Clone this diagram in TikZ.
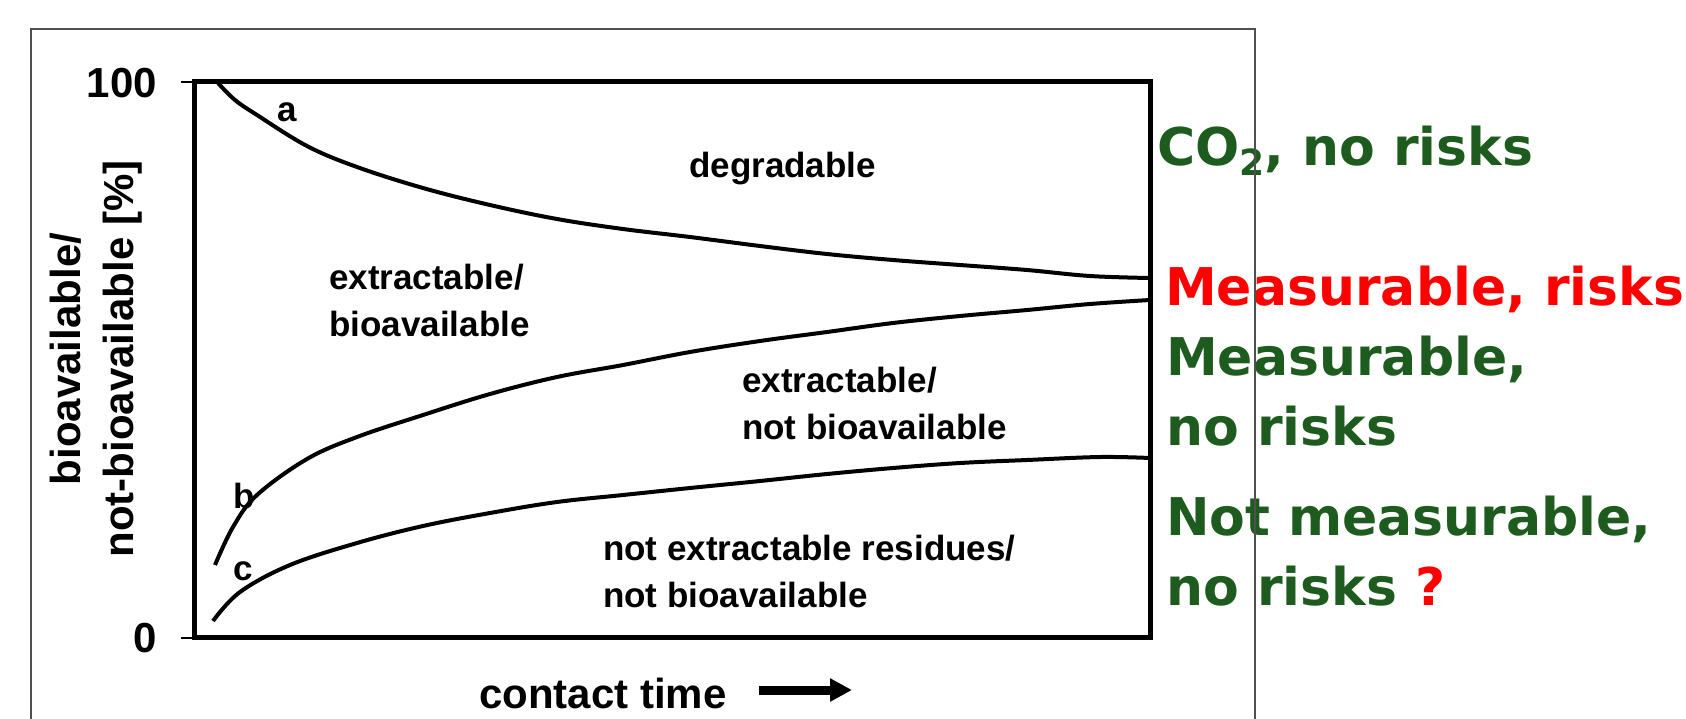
\documentclass[tikz,border=0pt]{standalone}
\usepackage{fontspec}
\setmainfont{Liberation Sans}
\newfontfamily\vfont{DejaVu Sans}
\usetikzlibrary{arrows.meta}
\definecolor{dgreen}{RGB}{30,91,30}
\definecolor{framegray}{RGB}{80,80,80}
\definecolor{rred}{RGB}{255,0,0}
\begin{document}
\begin{tikzpicture}[x=1pt,y=-1pt,
  axislab/.style={font=\bfseries\fontsize{42}{50}\selectfont, inner sep=0pt},
  inlab/.style={font=\bfseries\fontsize{35}{47}\selectfont, inner sep=0pt, align=left, anchor=base west},
  risk/.style={font=\vfont\bfseries\fontsize{52}{70}\selectfont, text=dgreen, inner sep=0pt, align=left, anchor=base west},
  curve/.style={line width=4pt, line join=round},
  plotbox/.style={line width=5pt},
  tickmark/.style={line width=2pt},
  frame/.style={draw=framegray, line width=2pt}]
\useasboundingbox (0,0) rectangle (1686,718);
\fill[white] (0,0) rectangle (1686,718);

% plot box
\draw[plotbox] (194,81.5) rectangle (1150,637.5);
\draw[tickmark] (181,81.5) -- (194,81.5);
\draw[tickmark] (181,637.5) -- (194,637.5);

% axis labels
\node[axislab, anchor=base east] (y100) at (157,97) {100};
\node[axislab, anchor=base east] (y0) at (157,652) {0};
\node[axislab, anchor=base, rotate=90] (ylab1) at (80,359) {bioavailable/};
\node[axislab, anchor=base, rotate=90] (ylab2) at (133,359) {not-bioavailable [\%]};
\node[axislab, anchor=base west] (xlab) at (479,708) {contact time};
\coordinate (arrA) at (759,690);
\coordinate (arrB) at (852,690);
\draw[line width=9pt, -{Triangle[length=22pt,width=22pt]}] (arrA) -- (arrB);

% curves
\draw[curve] plot[smooth, tension=0.6] coordinates {(218,83) (235,100) (257,115) (307,146) (357,167) (423,188) (490,205) (557,219) (623,229) (690,237) (760,246) (827,254) (893,260) (960,265) (1027,270) (1090,276) (1150,278)};
\draw[curve] plot[smooth, tension=0.6] coordinates {(215,565) (233,527) (257,495) (307,459) (357,437) (423,415) (490,394) (557,377) (623,365) (690,352) (760,341) (827,332) (893,323) (960,316) (1027,310) (1090,304) (1150,300)};
\draw[curve] plot[smooth, tension=0.6] coordinates {(213,621) (240,592) (290,565) (357,543) (423,526) (490,513) (557,502) (623,495) (690,488) (760,481) (827,474) (893,468) (960,463) (1027,460) (1100,457) (1150,458)};

% curve labels
\node[inlab] (la) at (277,121) {a};
\node[inlab] (lb) at (233,508) {b};
\node[inlab] (lc) at (233,580) {c};

% region labels (anchor on the baseline of the last line)
\node[inlab] (deg) at (689,177) {degradable};
\node[inlab] (ebio) at (329,336) {extractable/\\bioavailable};
\node[inlab] (enbio) at (742,439) {extractable/\\not bioavailable};
\node[inlab] (nres) at (603,607) {not extractable residues/\\not bioavailable};

% right texts
\node[risk] (co2) at (1157,165) {CO\raisebox{-10pt}{\fontsize{36}{36}\selectfont 2}, no risks};
\node[risk, text=rred] (mrisk) at (1165,305) {Measurable, risks};
\node[risk] (mnorisk) at (1166,445) {Measurable,\\no risks};
\node[risk] (nmnorisk) at (1166,605) {Not measurable,\\no risks {\color{rred}?}};

% outer frame
\draw[frame] (31,730) -- (31,29) -- (1255,29) -- (1255,730);
\end{tikzpicture}
\end{document}
